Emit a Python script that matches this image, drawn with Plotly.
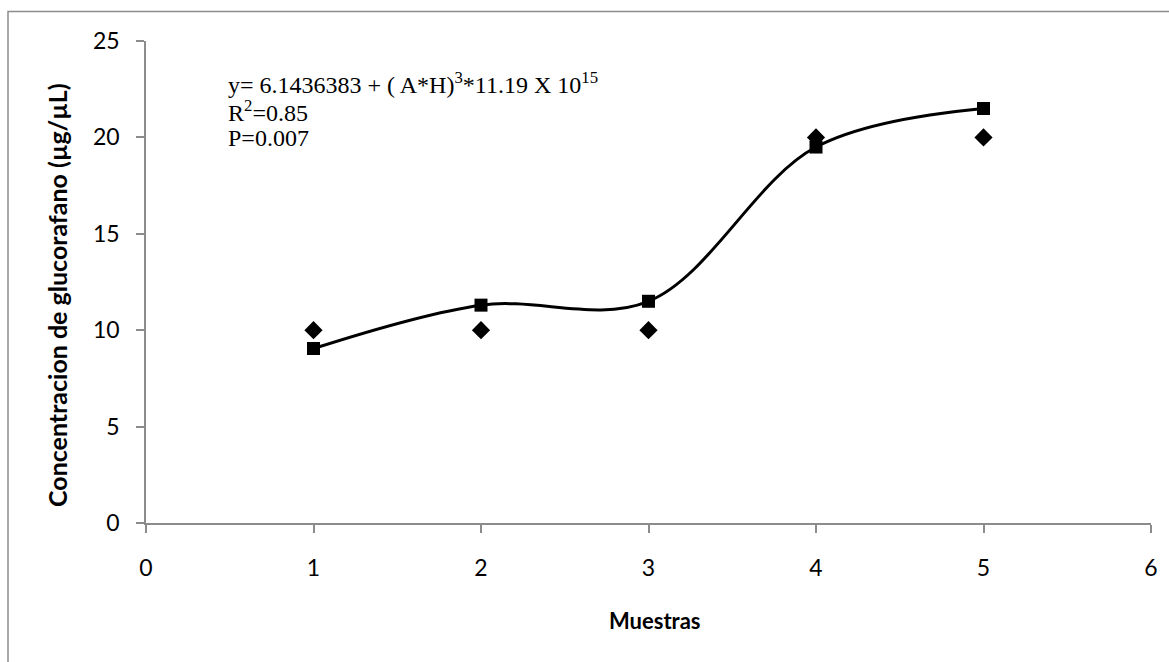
import plotly.graph_objects as go

muestras = [1, 2, 3, 4, 5]
concentracion_ajustada = [9.05, 11.3, 11.5, 19.5, 21.5]
concentracion_observada = [10, 10, 10, 20, 20]
x_ticks = [0, 1, 2, 3, 4, 5, 6]
y_ticks = [0, 5, 10, 15, 20, 25]
ecuacion = [
    "y= 6.1436383 + ( A*H)<sup>3</sup>*11.19 X 10<sup>15</sup>",
    "R<sup>2</sup>=0.85",
    "P=0.007",
]

W, H = 1169, 662
ML, MR, MT, MB = 146, 18, 41, 139
PW, PH = W - ML - MR, H - MT - MB


def px_x(p):
    return (p - ML) / PW


def px_y(p):
    return (H - MB - p) / PH


fig = go.Figure()
fig.add_trace(go.Scatter(
    x=muestras, y=concentracion_observada, mode="markers",
    marker=dict(symbol="diamond", size=14, color="black"),
    showlegend=False, cliponaxis=False))
fig.add_trace(go.Scatter(
    x=muestras, y=concentracion_ajustada, mode="lines+markers",
    line=dict(shape="spline", smoothing=1, color="black", width=3),
    marker=dict(symbol="square", size=13, color="black"),
    showlegend=False, cliponaxis=False))

axis_common = dict(showgrid=False, zeroline=False, showline=True, linecolor="#8c8c8c",
                   linewidth=1.5, ticks="outside", ticklen=8, tickcolor="#8c8c8c",
                   tickwidth=1.5, tickfont=dict(family="Lato", size=23, color="black"))

fig.update_xaxes(range=[0, 6], tickvals=x_ticks, ticktext=[str(v) for v in x_ticks],
                 ticklabelstandoff=16, **axis_common)
fig.update_yaxes(range=[0, 25], tickvals=y_ticks, ticktext=[str(v) for v in y_ticks],
                 ticklabelstandoff=12, **axis_common)

fig.add_annotation(
    xref="paper", yref="paper", x=px_x(57), y=px_y(295), textangle=-90,
    xanchor="center", yanchor="middle", showarrow=False,
    text="<b>Concentracion de glucorafano (µg/µL)</b>",
    font=dict(family="Lato", size=25, color="black"))
fig.add_annotation(
    xref="paper", yref="paper", x=px_x(655), y=px_y(620),
    xanchor="center", yanchor="middle", showarrow=False,
    text="<b>Muestras</b>",
    font=dict(family="Lato", size=22, color="black"))

for linea, yc in zip(ecuacion, [82.5, 110.5, 138.5]):
    fig.add_annotation(
        xref="paper", yref="paper", x=px_x(226), y=px_y(yc),
        xanchor="left", yanchor="middle", align="left", showarrow=False,
        text=linea, font=dict(family="Liberation Serif", size=24, color="black"))

fig.add_shape(type="rect", xref="paper", yref="paper",
              x0=px_x(8), x1=px_x(W + 20),
              y0=px_y(H + 20), y1=px_y(11.5),
              line=dict(color="#8c8c8c", width=1.5), layer="below")

fig.update_layout(width=W, height=H, margin=dict(l=ML, r=MR, t=MT, b=MB),
                  paper_bgcolor="white", plot_bgcolor="white")
fig.write_html("out.html")
